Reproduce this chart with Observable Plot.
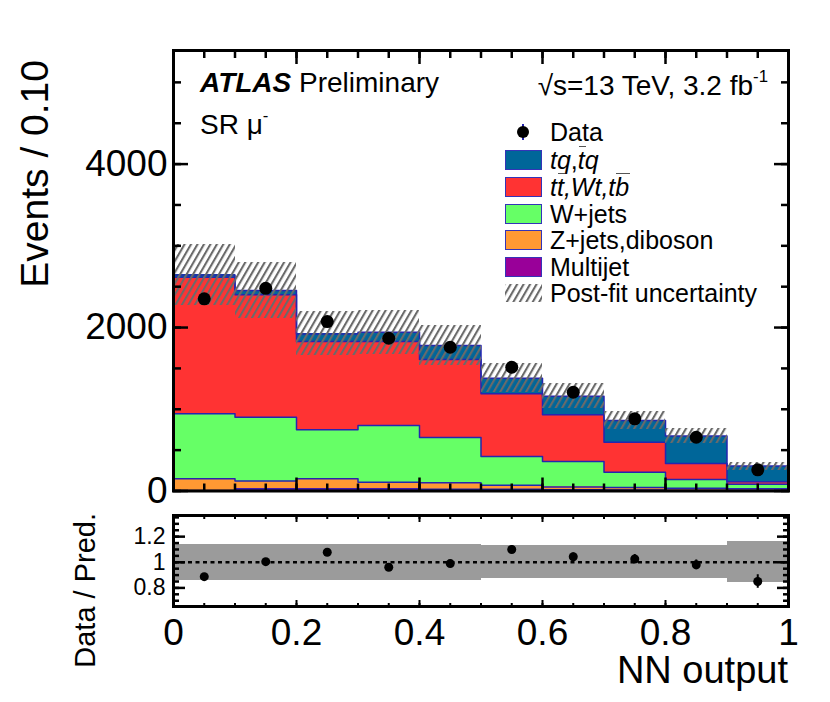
<!DOCTYPE html>
<html><head><meta charset="utf-8">
<script src="https://cdn.jsdelivr.net/npm/d3@7"></script>
<script src="https://cdn.jsdelivr.net/npm/@observablehq/plot@0.6"></script>
<style>
html,body{margin:0;padding:0;background:#fff;overflow:hidden;}
#wrap{position:relative;width:830px;height:702px;font-family:"Liberation Sans",Arial,Helvetica,sans-serif;color:#000;}
.t{position:absolute;white-space:nowrap;line-height:1;}
.ov{position:relative;}
.ov::after{content:"";position:absolute;left:1px;right:-1px;top:0.02em;border-top:1.2px solid #555;}
.sup{font-size:0.6em;vertical-align:0.75em;}
.sw{position:absolute;width:37px;height:20px;box-sizing:border-box;border:1.5px solid #3434b8;}
</style></head><body>
<svg width="0" height="0" style="position:absolute">
 <defs><pattern id="hatch" patternUnits="userSpaceOnUse" width="5.6" height="10" patternTransform="rotate(30)">
  <line x1="2" y1="-1" x2="2" y2="11" stroke="#6a6a6a" stroke-width="2.1"/></pattern></defs></svg>
<div id="wrap"></div>
<script>
// ---------- data ----------
const binEdges = [0, 0.1, 0.2, 0.3, 0.4, 0.5, 0.6, 0.7, 0.8, 0.9, 1.0];
const multijet = [5, 25, 25, 25, 20, 20, 15, 12, 10, 8];
const zjets    = [144, 97, 124, 83, 80, 50, 35, 31, 25, 19];
const wjets    = [795, 781, 599, 693, 555, 352, 312, 187, 105, 55];
const ttbar    = [1671, 1497, 1080, 1027, 953, 767, 570, 367, 198, 30];
const tq       = [29, 52, 94, 114, 171, 191, 228, 265, 334, 193];
const dataEv   = [2351, 2480, 2073, 1869, 1759, 1514, 1208, 883, 658, 259];
const ratioVals = [0.888, 1.005, 1.078, 0.961, 0.99, 1.10, 1.043, 1.026, 0.98, 0.85];
const uncRel   = [0.14, 0.14, 0.14, 0.14, 0.14, 0.13, 0.13, 0.13, 0.13, 0.16];
const procNames  = ["Multijet", "Z+jets,diboson", "W+jets", "tt,Wt,tb", "tq"];
const procColors = ["#990099", "#ff9933", "#66ff66", "#ff3333", "#006699"];
const yTicksMain = [0, 2000, 4000];
const yTicksRatio = [0.8, 1, 1.2];
const xTickLabels = [0, 0.2, 0.4, 0.6, 0.8, 1];

// ---------- derived tables ----------
const procVals = [multijet, zjets, wjets, ttbar, tq];
const nb = dataEv.length;
const stackRows = [];
const tops = procNames.map(() => []);
const totals = [];
for (let i = 0; i < nb; i++) {
  let cum = 0;
  procVals.forEach((vals, k) => {
    const y1 = cum; cum += vals[i];
    stackRows.push({x1: binEdges[i], x2: binEdges[i+1], y1, y2: cum, proc: procNames[k]});
    tops[k].push(cum);
  });
  totals.push(cum);
}
const outline = [];
procNames.forEach((p, k) => {
  binEdges.forEach((e, i) => outline.push({x: e, y: tops[k][Math.min(i, nb-1)], proc: p}));
});
const bins = d3.range(nb).map(i => ({
  x1: binEdges[i], x2: binEdges[i+1], xc: (binEdges[i]+binEdges[i+1])/2,
  tot: totals[i], lo: totals[i]*(1-uncRel[i]), hi: totals[i]*(1+uncRel[i]),
  d: dataEv[i], dlo: dataEv[i]-Math.sqrt(dataEv[i]), dhi: dataEv[i]+Math.sqrt(dataEv[i]),
  r: ratioVals[i], rerr: Math.sqrt(dataEv[i])/totals[i],
  rlo: 1-uncRel[i], rhi: 1+uncRel[i]
}));

const font = '"Liberation Sans",Arial,Helvetica,sans-serif';
const blank = () => "";
function ticksY(vals, anchor, size, w) {
  return Plot.axisY(vals, {anchor, tickSize: -size, tickFormat: blank, label: null, strokeWidth: w});
}
function ticksX(vals, anchor, size, w) {
  return Plot.axisX(vals, {anchor, tickSize: -size, tickFormat: blank, label: null, strokeWidth: w});
}
const minorX = d3.range(0, 20).map(i => i*0.05);
const majorX = [0.2, 0.4, 0.6, 0.8];

// ---------- main panel ----------
const main = Plot.plot({
  width: 830, height: 510,
  marginTop: 50, marginBottom: 19.5, marginLeft: 173, marginRight: 42,
  x: {domain: [0, 1]},
  y: {domain: [0, 5390]},
  color: {domain: procNames, range: procColors},
  style: {fontFamily: font, fontSize: "36px", color: "black", background: "transparent", overflow: "visible"},
  marks: [
    Plot.rect(stackRows, {x1: "x1", x2: "x2", y1: "y1", y2: "y2", fill: "proc", shapeRendering: "crispEdges"}),
    Plot.line(outline, {x: "x", y: "y", z: "proc", curve: "step-after", stroke: "#2525b0", strokeWidth: 1.5}),
    Plot.rect(bins, {x1: "x1", x2: "x2", y1: "lo", y2: "hi", fill: "url(#hatch)", shapeRendering: "crispEdges"}),
    Plot.ruleX(bins, {x: "xc", y1: "dlo", y2: "dhi", stroke: "black", strokeWidth: 2}),
    Plot.dot(bins, {x: "xc", y: "d", r: 6.5, fill: "black", stroke: "none"}),
    Plot.axisY(yTicksMain, {anchor: "left", tickSize: 0, tickPadding: 6, tickFormat: d => String(d), label: null, fontSize: 37}),
    ticksY(yTicksMain, "left", 15, 2.5),
    ticksY(d3.range(0, 5390, 500), "left", 8, 2.5),
    ticksY(yTicksMain, "right", 15, 2.5),
    ticksY(d3.range(0, 5390, 500), "right", 8, 2.5),
    ticksX(majorX, "bottom", 13, 2.5),
    ticksX(minorX, "bottom", 7, 2.5),
    ticksX(majorX, "top", 13, 2.5),
    ticksX(minorX, "top", 7, 2.5),
    Plot.frame({stroke: "black", strokeWidth: 3})
  ]
});
main.style.position = "absolute"; main.style.left = "0px"; main.style.top = "0px";

// ---------- ratio panel ----------
const ratio = Plot.plot({
  width: 830, height: 192,
  marginTop: 5, marginBottom: 96, marginLeft: 173, marginRight: 42,
  x: {domain: [0, 1]},
  y: {domain: [0.655, 1.365]},
  style: {fontFamily: font, fontSize: "36px", color: "black", background: "transparent", overflow: "visible"},
  marks: [
    Plot.rect(bins, {x1: "x1", x2: "x2", y1: "rlo", y2: "rhi", fill: "#9b9b9b", shapeRendering: "crispEdges"}),
    Plot.ruleY([1], {stroke: "black", strokeWidth: 2.5, strokeDasharray: "4,3.5"}),
    Plot.ruleX(bins, {x: "xc", y1: d => d.r - d.rerr, y2: d => d.r + d.rerr, stroke: "black", strokeWidth: 2}),
    Plot.dot(bins, {x: "xc", y: "r", r: 4.5, fill: "black", stroke: "none"}),
    Plot.axisY(yTicksRatio, {anchor: "left", tickSize: 0, tickPadding: 8, tickFormat: d => d === 1 ? "1" : d.toFixed(1), label: null, fontSize: 23}),
    ticksY(yTicksRatio, "left", 12, 2.5),
    ticksY(d3.range(0.7, 1.36, 0.05), "left", 6, 2.5),
    ticksY(yTicksRatio, "right", 12, 2.5),
    ticksY(d3.range(0.7, 1.36, 0.05), "right", 6, 2.5),
    Plot.axisX(xTickLabels, {anchor: "bottom", tickSize: 0, tickPadding: 12, tickFormat: d => (d === 0 || d === 1) ? String(d) : d.toFixed(1), label: null, fontSize: 37}),
    ticksX(majorX, "bottom", 6, 2),
    ticksX(minorX, "bottom", 3, 2),
    ticksX(majorX, "top", 6, 2),
    ticksX(minorX, "top", 3, 2),
    Plot.frame({stroke: "black", strokeWidth: 3})
  ]
});
ratio.style.position = "absolute"; ratio.style.left = "0px"; ratio.style.top = "510px";

const wrap = document.getElementById("wrap");
wrap.appendChild(main);
wrap.appendChild(ratio);

// ---------- text annotations ----------
function addText(html, left, baseline, size, opts = {}) {
  const d = document.createElement("div");
  d.className = "t";
  d.style.fontSize = size + "px";
  d.style.top = (baseline - 0.8465*size) + "px";
  if (opts.right != null) { d.style.right = (830 - opts.right) + "px"; d.style.textAlign = "right"; }
  else d.style.left = left + "px";
  d.innerHTML = html;
  wrap.appendChild(d);
  return d;
}
addText('<b><i>ATLAS</i></b> Preliminary', 200, 93, 28);
addText('SR μ<span class="sup">-</span>', 200, 132, 28);
addText('√s=13 TeV, 3.2 fb<span class="sup">-1</span>', 0, 93, 28, {right: 768});
addText('NN output', 0, 683, 38, {right: 788});

// rotated axis titles
const ov = d3.select(wrap).append("svg").attr("width", 830).attr("height", 702)
  .style("position", "absolute").style("left", 0).style("top", 0).style("pointer-events", "none");
ov.append("text").attr("transform", "translate(48,60) rotate(-90)").attr("text-anchor", "end")
  .attr("font-family", font).attr("font-size", 39).text("Events / 0.10");
ov.append("text").attr("transform", "translate(95,513) rotate(-90)").attr("text-anchor", "end")
  .attr("font-family", font).attr("font-size", 29).text("Data / Pred.");

// ---------- legend ----------
const legY = [132, 160, 187, 214, 240, 267, 293];
const legLabels = [
  'Data',
  '<i>tq</i>,<i><span class="ov">t</span>q</i>',
  '<i>t<span class="ov">t</span>,Wt,t<span class="ov">b</span></i>',
  'W+jets',
  'Z+jets,diboson',
  'Multijet',
  'Post-fit uncertainty'
];
const legColors = [null, procColors[4], procColors[3], procColors[2], procColors[1], procColors[0]];
legLabels.forEach((lab, i) => {
  addText(lab, 550, legY[i] + 9, 25);
  if (i >= 1 && i <= 5) {
    const s = document.createElement("div");
    s.className = "sw";
    s.style.left = "505px"; s.style.top = (legY[i] - 10) + "px";
    s.style.background = legColors[i];
    wrap.appendChild(s);
  }
});
ov.append("line").attr("x1", 523).attr("x2", 523).attr("y1", legY[0]-8).attr("y2", legY[0]+8)
  .attr("stroke", "#2525b0").attr("stroke-width", 2);
ov.append("circle").attr("cx", 523).attr("cy", legY[0]).attr("r", 6).attr("fill", "black");
ov.append("rect").attr("x", 505).attr("y", legY[6]-9).attr("width", 37).attr("height", 18).attr("fill", "url(#hatch)");
</script>
</body></html>
